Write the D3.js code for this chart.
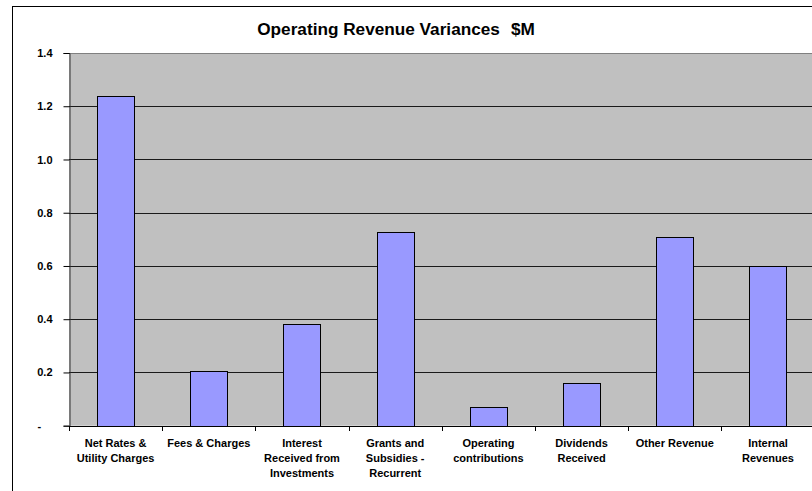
<!DOCTYPE html>
<html>
<head>
<meta charset="utf-8">
<script src="https://cdn.jsdelivr.net/npm/d3@7"></script>
<style>
  html, body { margin: 0; padding: 0; background: #fff; }
  svg { display: block; font-family: "Liberation Sans", Arial, sans-serif; }
</style>
</head>
<body>
<svg id="chart" width="812" height="491"></svg>
<script>
// data
const categories = [
  "Net Rates & Utility Charges", "Fees & Charges", "Interest Received from Investments",
  "Grants and Subsidies - Recurrent", "Operating contributions", "Dividends Received",
  "Other Revenue", "Internal Revenues"
];
const labelLines = [
  ["Net Rates &", "Utility Charges"],
  ["Fees & Charges"],
  ["Interest", "Received from", "Investments"],
  ["Grants and", "Subsidies -", "Recurrent"],
  ["Operating", "contributions"],
  ["Dividends", "Received"],
  ["Other Revenue"],
  ["Internal", "Revenues"]
];
const variances = [1.238, 0.207, 0.382, 0.728, 0.070, 0.159, 0.709, 0.599];
const yTicks = [0, 0.2, 0.4, 0.6, 0.8, 1.0, 1.2, 1.4];
const titleParts = ["Operating Revenue Variances", "$M"];

const svg = d3.select("#chart");
const plot = { left: 69, top: 53, right: 69 + 8 * 93.2, bottom: 425.7 };

// chart area border
svg.append("rect")
  .attr("x", 12.5).attr("y", 6.5)
  .attr("width", 820).attr("height", 500)
  .attr("fill", "#fff").attr("stroke", "#000");

const x = d3.scaleBand()
  .domain(categories)
  .range([plot.left, plot.right])
  .paddingInner(0.6)
  .paddingOuter(0.3);

const y = d3.scaleLinear().domain([0, 1.4]).range([plot.bottom, plot.top]);

// plot background
svg.append("rect")
  .attr("x", plot.left).attr("y", plot.top)
  .attr("width", plot.right - plot.left).attr("height", plot.bottom - plot.top)
  .attr("fill", "#c0c0c0");

// gridlines
svg.append("g")
  .selectAll("line")
  .data(yTicks.filter(t => t > 0))
  .enter().append("line")
  .attr("x1", plot.left).attr("x2", plot.right)
  .attr("y1", d => Math.round(y(d)) + 0.5).attr("y2", d => Math.round(y(d)) + 0.5)
  .attr("stroke", d => d === 1.4 ? "#808080" : "#1a1a1a");

// bars
svg.append("g")
  .selectAll("rect")
  .data(variances)
  .enter().append("rect")
  .attr("x", (d, i) => Math.round(x(categories[i])) + 0.5)
  .attr("y", d => Math.round(y(d)) + 0.5)
  .attr("width", Math.round(x.bandwidth()))
  .attr("height", d => Math.round(plot.bottom) - Math.round(y(d)))
  .attr("fill", "#9999ff")
  .attr("stroke", "#000");

// y axis
const yAxis = svg.append("g")
  .attr("transform", `translate(${plot.left + 0.5},0)`)
  .call(d3.axisLeft(y).tickValues(yTicks).tickSize(6).tickPadding(11)
    .tickFormat(d => d === 0 ? "-" : d3.format(".1f")(d)));
yAxis.select(".domain").attr("stroke", "#333");
yAxis.selectAll(".tick line").attr("stroke", "#000");
yAxis.selectAll(".tick text")
  .attr("font-size", 11).attr("font-weight", "bold").attr("fill", "#000")
  .attr("font-family", "Liberation Sans, Arial, sans-serif");
// accounting-style dash for zero sits at the left of the label column
yAxis.selectAll(".tick text").filter(d => d === 0)
  .attr("text-anchor", "start").attr("x", -32);

// x axis: ticks at category boundaries
const step = x.step();
const bounds = d3.range(categories.length + 1).map(i => plot.left + i * step);
const xAxisG = svg.append("g");
xAxisG.append("line")
  .attr("x1", plot.left).attr("x2", plot.right)
  .attr("y1", Math.round(plot.bottom) + 0.5).attr("y2", Math.round(plot.bottom) + 0.5)
  .attr("stroke", "#000");
xAxisG.selectAll("line.tk")
  .data(bounds)
  .enter().append("line")
  .attr("class", "tk")
  .attr("x1", d => Math.round(d) + 0.5).attr("x2", d => Math.round(d) + 0.5)
  .attr("y1", Math.round(plot.bottom)).attr("y2", Math.round(plot.bottom) + 5)
  .attr("stroke", "#000");

// category labels
const lbl = svg.append("g")
  .selectAll("text")
  .data(categories)
  .enter().append("text")
  .attr("x", d => x(d) + x.bandwidth() / 2)
  .attr("y", 447)
  .attr("text-anchor", "middle")
  .attr("font-size", 11)
  .attr("font-weight", "bold")
  .attr("fill", "#000");
lbl.each(function (d, i) {
  d3.select(this).selectAll("tspan")
    .data(labelLines[i])
    .enter().append("tspan")
    .attr("x", x(d) + x.bandwidth() / 2)
    .attr("dy", (t, j) => j === 0 ? 0 : 15)
    .text(t => t);
});

// title
svg.append("text")
  .attr("x", 396).attr("y", 35)
  .attr("text-anchor", "middle")
  .attr("font-size", 17.2)
  .attr("font-weight", "bold")
  .attr("fill", "#000")
  .selectAll("tspan")
  .data(titleParts)
  .enter().append("tspan")
  .attr("dx", (d, i) => i === 0 ? 0 : 11)
  .text(d => d);
</script>
</body>
</html>
